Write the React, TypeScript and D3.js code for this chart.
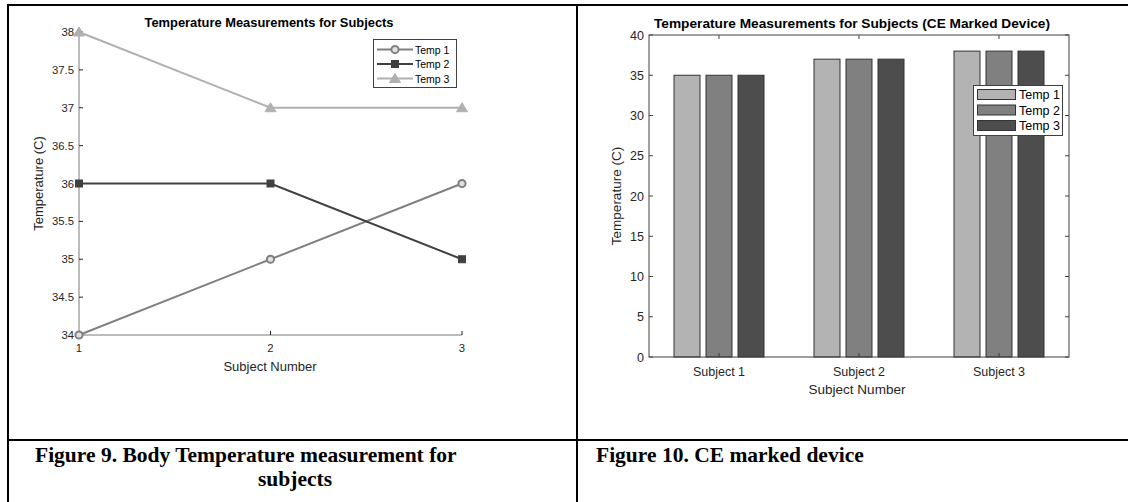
import * as React from "react";
import * as d3 from "d3";

// line chart data (Figure 9)
const subjectNums = [1, 2, 3];
const lineSeries = ["Temp 1", "Temp 2", "Temp 3"];
const temp1 = [34, 35, 36];
const temp2 = [36, 36, 35];
const temp3 = [38, 37, 37];
const lineTicks = [34, 34.5, 35, 35.5, 36, 36.5, 37, 37.5, 38];

// bar chart data (Figure 10)
const subjects = ["Subject 1", "Subject 2", "Subject 3"];
const barTemp1 = [35, 37, 38];
const barTemp2 = [35, 37, 38];
const barTemp3 = [35, 37, 38];
const barTicks = [0, 5, 10, 15, 20, 25, 30, 35, 40];

const captions = ["Figure 9. Body Temperature measurement for", "subjects", "Figure 10. CE marked device"];

const sans = "Liberation Sans, Arial, sans-serif";
const serif = "Liberation Serif, Times New Roman, serif";
const txt = "#262626";

const lineColors = ["#808080", "#404040", "#b0b0b0"];
const barColors = ["#b3b3b3", "#808080", "#4d4d4d"];

const Marker = ({ kind, x, y, color }) => {
  if (kind === 0)
    return <circle cx={x} cy={y} r={3.6} fill="#e0e0e0" stroke={color} strokeWidth={2} />;
  if (kind === 1)
    return <rect x={x - 3.5} y={y - 3.5} width={7} height={7} fill={color} stroke={color} strokeWidth={1} />;
  return <path d={`M${x},${y - 5}L${x + 5.5},${y + 4}L${x - 5.5},${y + 4}Z`} fill={color} stroke={color} strokeWidth={1} />;
};

const LineChart = () => {
  const x = d3.scaleLinear().domain([1, 3]).range([79, 462]);
  const y = d3.scaleLinear().domain([34, 38]).range([335, 32]);
  const series = [temp1, temp2, temp3];
  const line = d3
    .line<number>()
    .x((_, i) => x(subjectNums[i]))
    .y((d) => y(d));

  return (
    <g fontFamily={sans}>
      <text x={269} y={27} textAnchor="middle" fontSize={12.9} fontWeight="bold" fill="#000">
        Temperature Measurements for Subjects
      </text>
      {/* axes */}
      <line x1={x(1)} x2={x(3)} y1={y(34)} y2={y(34)} stroke="#a6a6a6" strokeWidth={1.5} />
      <line x1={x(1)} x2={x(1)} y1={y(34)} y2={y(38)} stroke="#a6a6a6" strokeWidth={1.5} />
      {lineTicks.map((t) => (
        <g key={t}>
          <line x1={x(1)} x2={x(1) + 4} y1={y(t)} y2={y(t)} stroke={txt} />
          <text x={x(1) - 5} y={y(t) + 4} textAnchor="end" fontSize={11.3} fill={txt}>
            {t}
          </text>
        </g>
      ))}
      {subjectNums.map((s) => (
        <g key={s}>
          <line x1={x(s)} x2={x(s)} y1={y(34)} y2={y(34) - 4} stroke={txt} />
          <text x={x(s)} y={352} textAnchor="middle" fontSize={11.3} fill={txt}>
            {s}
          </text>
        </g>
      ))}
      <text x={270} y={370.5} textAnchor="middle" fontSize={13} fill={txt}>
        Subject Number
      </text>
      <text transform={`translate(43,${(y(34) + y(38)) / 2}) rotate(-90)`} textAnchor="middle" fontSize={13} fill={txt}>
        Temperature (C)
      </text>
      {/* series */}
      {series.map((s, k) => (
        <g key={k}>
          <path d={line(s) ?? ""} fill="none" stroke={lineColors[k]} strokeWidth={2} />
          {s.map((v, i) => (
            <Marker key={i} kind={k} x={x(subjectNums[i])} y={y(v)} color={lineColors[k]} />
          ))}
        </g>
      ))}
      {/* legend */}
      <rect x={373.5} y={39.5} width={83} height={48} fill="#fff" stroke="#404040" strokeWidth={1} />
      {lineSeries.map((name, k) => {
        const ly = 49.5 + k * 14.5;
        return (
          <g key={name}>
            <line x1={377} x2={413} y1={ly} y2={ly} stroke={lineColors[k]} strokeWidth={2} />
            <Marker kind={k} x={395} y={ly} color={lineColors[k]} />
            <text x={415} y={ly + 4} fontSize={10.5} fill="#000">
              {name}
            </text>
          </g>
        );
      })}
    </g>
  );
};

const BarChart = () => {
  const x = d3.scaleBand().domain(subjects).range([649, 1069]);
  const inner = d3.scaleBand().domain(lineSeries).range([-45, 45]).paddingInner(0.1875);
  const y = d3.scaleLinear().domain([0, 40]).range([357, 35]);
  const series = [barTemp1, barTemp2, barTemp3];
  const x0 = 649;
  const x1 = 1069;

  return (
    <g fontFamily={sans}>
      <text x={852} y={28} textAnchor="middle" fontSize={13.7} fontWeight="bold" fill="#000">
        Temperature Measurements for Subjects (CE Marked Device)
      </text>
      {series.map((s, k) =>
        s.map((v, i) => {
          const cx = (x(subjects[i]) ?? 0) + x.bandwidth() / 2;
          return (
            <rect
              key={`${k}-${i}`}
              x={cx + (inner(lineSeries[k]) ?? 0)}
              y={y(v)}
              width={inner.bandwidth()}
              height={y(0) - y(v)}
              fill={barColors[k]}
              stroke="#333"
              strokeWidth={1}
            />
          );
        })
      )}
      {/* box */}
      <rect x={x0} y={y(40)} width={x1 - x0} height={y(0) - y(40)} fill="none" stroke="#404040" strokeWidth={1} />
      {barTicks.map((t) => (
        <g key={t}>
          <line x1={x0} x2={x0 + 4} y1={y(t)} y2={y(t)} stroke="#404040" />
          <line x1={x1} x2={x1 - 4} y1={y(t)} y2={y(t)} stroke="#404040" />
          <text x={x0 - 5} y={y(t) + 4.5} textAnchor="end" fontSize={12.5} fill={txt}>
            {t}
          </text>
        </g>
      ))}
      {subjects.map((s) => {
        const cx = (x(s) ?? 0) + x.bandwidth() / 2;
        return (
          <g key={s}>
            <line x1={cx} x2={cx} y1={y(0)} y2={y(0) - 4} stroke="#404040" />
            <line x1={cx} x2={cx} y1={y(40)} y2={y(40) + 4} stroke="#404040" />
            <text x={cx} y={376} textAnchor="middle" fontSize={12.5} fill={txt}>
              {s}
            </text>
          </g>
        );
      })}
      <text x={857} y={393.5} textAnchor="middle" fontSize={13.5} fill={txt}>
        Subject Number
      </text>
      <text transform={`translate(621,${(y(0) + y(40)) / 2}) rotate(-90)`} textAnchor="middle" fontSize={13.5} fill={txt}>
        Temperature (C)
      </text>
      {/* legend */}
      <rect x={973.5} y={85.5} width={89} height={50} fill="#fff" stroke="#404040" strokeWidth={1} />
      {lineSeries.map((name, k) => {
        const ly = 94.5 + k * 15.5;
        return (
          <g key={name}>
            <rect x={977.5} y={ly - 5} width={38} height={10} fill={barColors[k]} stroke="#333" strokeWidth={1} />
            <text x={1019} y={ly + 4.5} fontSize={12.5} fill="#000">
              {name}
            </text>
          </g>
        );
      })}
    </g>
  );
};

export default function App() {
  return (
    <svg
      width={1128}
      height={502}
      style={{ position: "absolute", left: 0, top: 0, background: "#fff" }}
    >
      <rect width={1128} height={502} fill="#fff" />
      {/* table borders */}
      <line x1={7} x2={1128} y1={5} y2={5} stroke="#000" strokeWidth={2} />
      <line x1={8} x2={8} y1={4} y2={502} stroke="#000" strokeWidth={2} />
      <line x1={577} x2={577} y1={4} y2={502} stroke="#000" strokeWidth={2} />
      <line x1={7} x2={1128} y1={440} y2={440} stroke="#000" strokeWidth={2} />
      <LineChart />
      <BarChart />
      <g fontFamily={serif} fontWeight="bold" fontSize={21.5} fill="#000">
        <text x={35} y={462}>{captions[0]}</text>
        <text x={295} y={486} textAnchor="middle">{captions[1]}</text>
        <text x={596} y={462}>{captions[2]}</text>
      </g>
    </svg>
  );
}
